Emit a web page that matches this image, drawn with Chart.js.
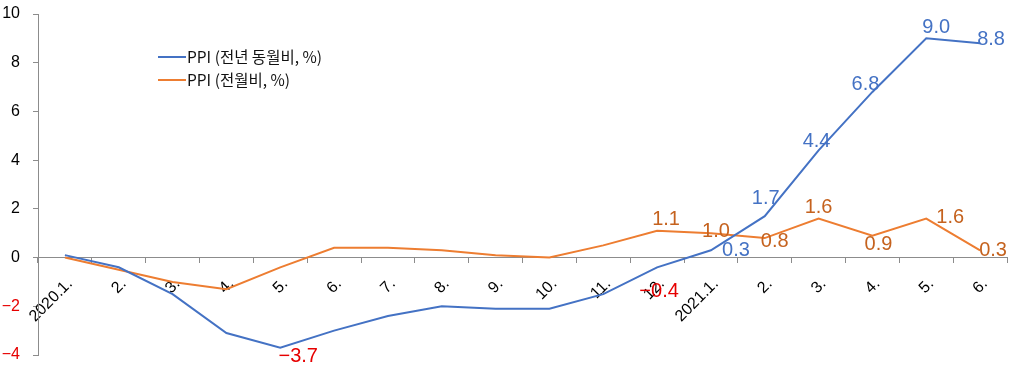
<!DOCTYPE html>
<html>
<head>
<meta charset="utf-8">
<script src="https://cdn.jsdelivr.net/npm/chart.js@4.4.1/dist/chart.umd.min.js"></script>
<style>
  html, body { margin: 0; padding: 0; background: #fff; }
</style>
</head>
<body>
<canvas id="ppiChart" width="1012" height="368"></canvas>
<script>
// 데이터
const months = ['2020.1.', '2.', '3.', '4.', '5.', '6.', '7.', '8.', '9.', '10.', '11.', '12.',
                '2021.1.', '2.', '3.', '4.', '5.', '6.'];
const ppiYoY = [0.1, -0.4, -1.5, -3.1, -3.7, -3.0, -2.4, -2.0, -2.1, -2.1, -1.5, -0.4,
                0.3, 1.7, 4.4, 6.8, 9.0, 8.8];
const ppiMoM = [0.0, -0.5, -1.0, -1.3, -0.4, 0.4, 0.4, 0.3, 0.1, 0.0, 0.5, 1.1,
                1.0, 0.8, 1.6, 0.9, 1.6, 0.3];
const seriesNames = ['PPI (전년 동월비, %)', 'PPI (전월비, %)'];
const yMin = -4, yMax = 10, yStep = 2;

// 라벨을 표시할 점: index -> [dx, dy] (픽셀 오프셋)
const yoyLabelPos = {4: [18, 9], 11: [2, 24], 12: [25, 0], 13: [1, -18], 14: [-2, -9],
                     15: [-7, -7], 16: [10, -11], 17: [11, -4]};
const momLabelPos = {11: [9, -11], 12: [5, -2], 13: [10, 3], 14: [0, -11], 15: [6, 9],
                     16: [24, -1], 17: [13, 0]};

const BLUE = '#4472C4';
const ORANGE = '#ED7D31';
const ORANGE_TXT = '#C5621E';
const RED = '#E60000';
const AXIS = '#8C8C8C';

function fmt(v, digits) {
    const s = Math.abs(v).toFixed(digits);
    return v < 0 ? '\u2212' + s : s;
}

// 데이터 라벨 그리기
const pointLabels = {
    id: 'pointLabels',
    afterDatasetsDraw(chart) {
        const ctx = chart.ctx;
        const maps = [yoyLabelPos, momLabelPos];
        const colors = [BLUE, ORANGE_TXT];
        ctx.save();
        ctx.font = '20px "Liberation Sans", Arial, sans-serif';
        ctx.textAlign = 'center';
        ctx.textBaseline = 'middle';
        chart.data.datasets.forEach((ds, di) => {
            const meta = chart.getDatasetMeta(di);
            Object.keys(maps[di]).forEach(k => {
                const i = Number(k);
                const pt = meta.data[i];
                const v = ds.data[i];
                const [dx, dy] = maps[di][k];
                ctx.fillStyle = v < 0 ? RED : colors[di];
                ctx.fillText(fmt(v, 1), pt.x + dx, pt.y + dy);
            });
        });
        ctx.restore();
    }
};

// 범례 그리기
const floatLegend = {
    id: 'floatLegend',
    afterDraw(chart) {
        const ctx = chart.ctx;
        const colors = [BLUE, ORANGE];
        ctx.save();
        ctx.font = '15.5px "Noto Sans CJK KR", sans-serif';
        ctx.textBaseline = 'middle';
        ctx.textAlign = 'left';
        seriesNames.forEach((name, i) => {
            const y = 57 + i * 23;
            ctx.strokeStyle = colors[i];
            ctx.lineWidth = 2;
            ctx.beginPath();
            ctx.moveTo(158, y);
            ctx.lineTo(186, y);
            ctx.stroke();
            ctx.fillStyle = '#111';
            ctx.fillText(name, 187, y);
        });
        ctx.restore();
    }
};

new Chart(document.getElementById('ppiChart'), {
    type: 'line',
    data: {
        labels: months,
        datasets: [{
            label: seriesNames[0],
            data: ppiYoY,
            borderColor: BLUE,
            borderWidth: 2,
            pointRadius: 0,
            tension: 0
        }, {
            label: seriesNames[1],
            data: ppiMoM,
            borderColor: ORANGE,
            borderWidth: 2,
            pointRadius: 0,
            tension: 0
        }]
    },
    options: {
        responsive: false,
        animation: false,
        layout: { padding: { top: 14, right: 5, bottom: 13, left: 0 } },
        plugins: {
            legend: { display: false },
            tooltip: { enabled: false }
        },
        scales: {
            x: {
                position: { y: 0 },
                offset: true,
                grid: { offset: true, drawOnChartArea: false, tickLength: 5, color: AXIS },
                border: { color: AXIS },
                ticks: {
                    autoSkip: false,
                    maxRotation: 45,
                    minRotation: 45,
                    padding: 12,
                    labelOffset: 5,
                    color: '#000',
                    font: { family: '"Liberation Sans", Arial, sans-serif', size: 16 }
                },
                afterFit(s) { s.height = 0; }
            },
            y: {
                min: yMin,
                max: yMax,
                grid: { drawOnChartArea: false, tickLength: 5, color: AXIS },
                border: { color: AXIS },
                ticks: {
                    stepSize: yStep,
                    padding: 13,
                    font: { family: '"Liberation Sans", Arial, sans-serif', size: 16 },
                    color: c => c.tick.value < 0 ? RED : '#000',
                    callback: v => fmt(v, 0)
                },
                afterFit(s) {
                    s.width = 38;
                    s.paddingTop = 0;
                    s.paddingBottom = 0;
                }
            }
        }
    },
    plugins: [pointLabels, floatLegend]
});
</script>
</body>
</html>
